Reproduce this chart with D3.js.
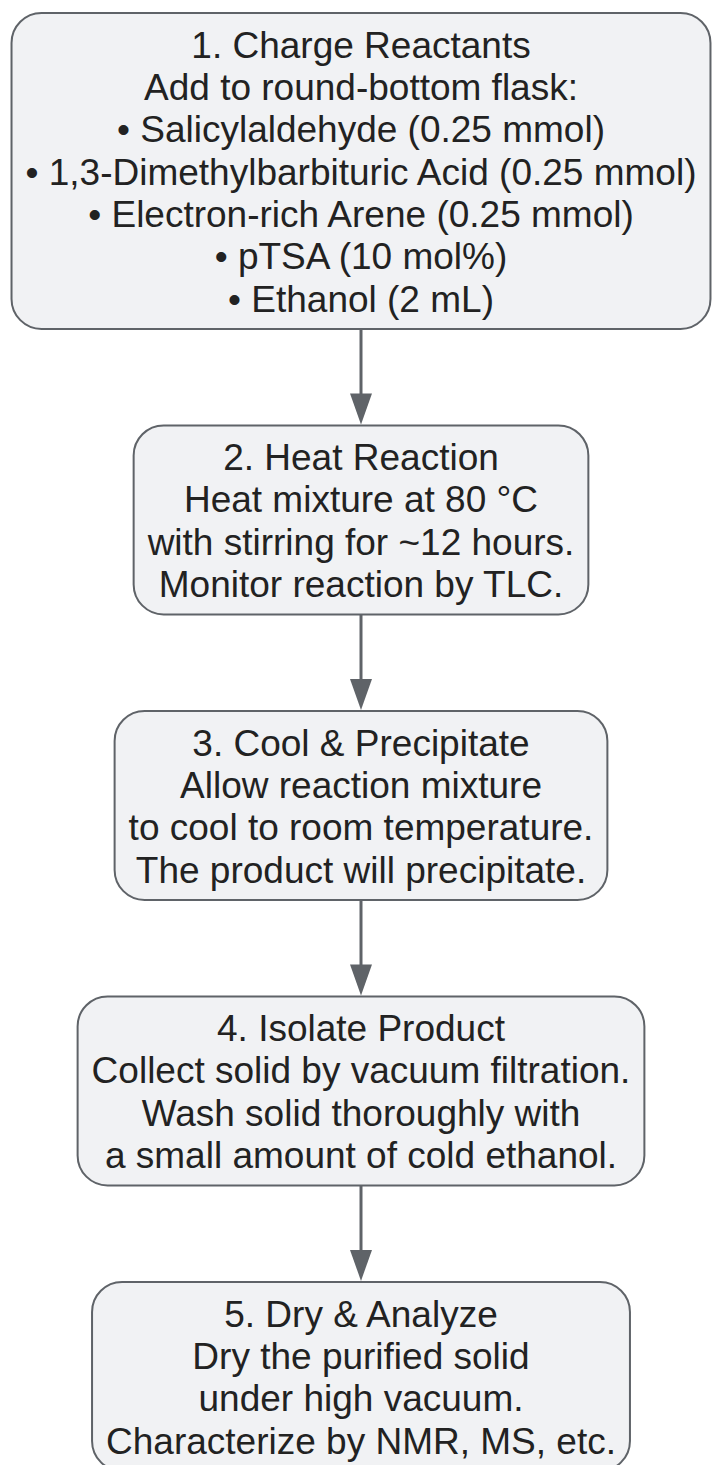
<!DOCTYPE html>
<html>
<head>
<meta charset="utf-8">
<script src="https://cdn.jsdelivr.net/npm/d3@7"></script>
<style>
  body { margin: 0; background: #fff; }
  svg { display: block; }
</style>
</head>
<body>
<div id="chart"></div>
<script>
// steps of the procedure, one array of lines per box
var stepTitles = [
  "1. Charge Reactants",
  "2. Heat Reaction",
  "3. Cool & Precipitate",
  "4. Isolate Product",
  "5. Dry & Analyze"
];
var stepLines = [
  ["Add to round-bottom flask:",
   "\u2022 Salicylaldehyde (0.25 mmol)",
   "\u2022 1,3-Dimethylbarbituric Acid (0.25 mmol)",
   "\u2022 Electron-rich Arene (0.25 mmol)",
   "\u2022 pTSA (10 mol%)",
   "\u2022 Ethanol (2 mL)"],
  ["Heat mixture at 80 \u00b0C",
   "with stirring for ~12 hours.",
   "Monitor reaction by TLC."],
  ["Allow reaction mixture",
   "to cool to room temperature.",
   "The product will precipitate."],
  ["Collect solid by vacuum filtration.",
   "Wash solid thoroughly with",
   "a small amount of cold ethanol."],
  ["Dry the purified solid",
   "under high vacuum.",
   "Characterize by NMR, MS, etc."]
];

var width = 713, height = 1465;
var cx = 361;
var fontSize = 37, lineH = 42.3;
var padX = 14, padY = 9.9;
var gap = 96.5;
var radius = 30;
var headW = 22, headL = 31;

var svg = d3.select('#chart').append('svg')
    .attr('width', width).attr('height', height)
    .style('font-family', '"Liberation Sans", Arial, sans-serif');

var steps = stepTitles.map(function (t, i) {
  return { lines: [t].concat(stepLines[i]) };
});

// measure text so each box hugs its widest line
var probe = svg.append('text').attr('font-size', fontSize);
steps.forEach(function (s) {
  s.w = d3.max(s.lines, function (l) {
    probe.text(l);
    return probe.node().getComputedTextLength();
  }) + 2 * padX;
  s.h = s.lines.length * lineH + 2 * padY;
});
probe.remove();

var y = 13;
steps.forEach(function (s) {
  s.y = y;
  y += s.h + gap;
});

// arrows between boxes
var links = svg.selectAll('g.link')
   .data(d3.pairs(steps))
   .enter()
   .append('g')
   .attr('class', 'link');

links.append('line')
   .attr('x1', cx).attr('x2', cx)
   .attr('y1', function (p) { return p[0].y + p[0].h; })
   .attr('y2', function (p) { return p[1].y - headL; })
   .attr('stroke', '#5f6368')
   .attr('stroke-width', 3);

links.append('path')
   .attr('d', function (p) {
     var tip = p[1].y - 1;
     return 'M' + (cx - headW / 2) + ',' + (tip - headL) +
            'L' + (cx + headW / 2) + ',' + (tip - headL) +
            'L' + cx + ',' + tip + 'Z';
   })
   .attr('fill', '#5f6368');

var node = svg.selectAll('g.step')
   .data(steps)
   .enter()
   .append('g')
   .attr('class', 'step');

node.append('rect')
   .attr('x', function (d) { return cx - d.w / 2; })
   .attr('y', function (d) { return d.y; })
   .attr('width', function (d) { return d.w; })
   .attr('height', function (d) { return d.h; })
   .attr('rx', radius).attr('ry', radius)
   .attr('fill', '#f1f2f4')
   .attr('stroke', '#5f6368')
   .attr('stroke-width', 2);

node.each(function (d) {
  d3.select(this).selectAll('text')
     .data(d.lines)
     .enter()
     .append('text')
     .attr('x', cx)
     .attr('y', function (l, i) { return d.y + padY + lineH * (i + 0.5); })
     .attr('dy', '0.37em')
     .attr('text-anchor', 'middle')
     .attr('font-size', fontSize)
     .attr('fill', '#222')
     .text(function (l) { return l; });
});
</script>
</body>
</html>
